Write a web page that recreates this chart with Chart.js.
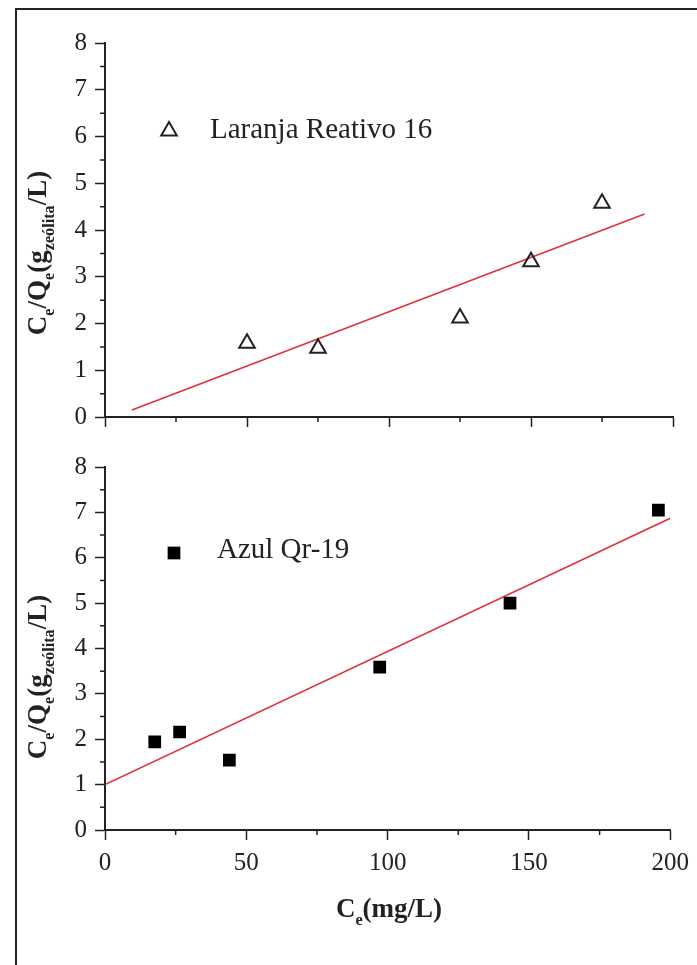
<!DOCTYPE html>
<html>
<head>
<meta charset="utf-8">
<script src="https://cdn.jsdelivr.net/npm/chart.js@4.4.0/dist/chart.umd.min.js"></script>
<style>
  html, body { margin: 0; padding: 0; background: #fff; }
  body { width: 697px; height: 965px; position: relative; overflow: hidden; }
  #frame { position: absolute; left: 15px; top: 8px; width: 700px; height: 980px;
           border-left: 2px solid #222; border-top: 2px solid #222; }
  canvas { position: absolute; left: 0; }
  #top { top: 0; }
  #bottom { top: 440px; }
</style>
</head>
<body>
<div id="frame"></div>
<canvas id="top" width="697" height="440"></canvas>
<canvas id="bottom" width="697" height="525"></canvas>
<script>
// Laranja Reativo 16 (open triangles)
const laranjaX = [50, 75, 125, 150, 175];
const laranjaY = [1.58, 1.47, 2.12, 3.32, 4.57];
const laranjaFitX = [9.5, 190];
const laranjaFitY = [0.15, 4.34];

// Azul Qr-19 (filled squares)
const azulX = [17.6, 26.4, 44, 97.2, 143.3, 195.8];
const azulY = [1.94, 2.16, 1.54, 3.59, 5.0, 7.05];
const azulFitX = [0, 200];
const azulFitY = [1.0, 6.87];

// axes
const xTicks = [0, 50, 100, 150, 200];
const yTicks = [0, 1, 2, 3, 4, 5, 6, 7, 8];
const xMinorStep = 25;
const yMinorStep = 0.5;

const yTitle = [["C", 0], ["e", 1], ["/Q", 0], ["e", 1], ["(g", 0], ["zeólita", 1], ["/L)", 0]];
const xTitle = [["C", 0], ["e", 1], ["(mg/L)", 0]];

const serif = '"Liberation Serif", "Times New Roman", serif';
const ink = "#222";

function pts(xs, ys) {
  return xs.map((x, i) => ({ x: x, y: ys[i] }));
}

// draws text pieces with subscripts, centred on (0,0) baseline
function drawRich(ctx, parts, size) {
  const subSize = size * 0.6;
  let w = 0;
  parts.forEach(p => {
    ctx.font = "bold " + (p[1] ? subSize : size) + "px " + serif;
    w += ctx.measureText(p[0]).width;
  });
  let x = -w / 2;
  ctx.textAlign = "left";
  ctx.textBaseline = "alphabetic";
  parts.forEach(p => {
    ctx.font = "bold " + (p[1] ? subSize : size) + "px " + serif;
    ctx.fillText(p[0], x, p[1] ? size * 0.28 : 0);
    x += ctx.measureText(p[0]).width;
  });
}

const decorations = {
  id: "decorations",
  afterDraw(chart, args, opts) {
    const ctx = chart.ctx;
    const xs = chart.scales.x, ys = chart.scales.y;
    ctx.save();
    ctx.strokeStyle = ink;
    ctx.lineWidth = 1.5;
    // minor ticks
    ctx.beginPath();
    for (let v = ys.min + yMinorStep; v < ys.max; v += 2 * yMinorStep) {
      const p = ys.getPixelForValue(v);
      ctx.moveTo(xs.left - 5, p); ctx.lineTo(xs.left, p);
    }
    for (let v = xs.min + xMinorStep; v < xs.max; v += 2 * xMinorStep) {
      const p = xs.getPixelForValue(v);
      ctx.moveTo(p, ys.bottom); ctx.lineTo(p, ys.bottom + 5);
    }
    ctx.stroke();

    // y title
    ctx.fillStyle = ink;
    ctx.save();
    ctx.translate(opts.yTitleX, opts.yTitleY);
    ctx.rotate(-Math.PI / 2);
    drawRich(ctx, yTitle, 27);
    ctx.restore();

    // x title
    if (opts.xTitle) {
      ctx.save();
      ctx.translate(opts.xTitleX, opts.xTitleY);
      drawRich(ctx, xTitle, 27);
      ctx.restore();
    }

    // legend
    const lg = opts.legend;
    const ds = chart.data.datasets[0];
    ctx.fillStyle = ds.backgroundColor;
    ctx.strokeStyle = ds.borderColor;
    ctx.lineWidth = ds.borderWidth;
    Chart.helpers.drawPoint(ctx, {
      pointStyle: ds.pointStyle, radius: ds.pointRadius, rotation: 0,
      borderWidth: ds.borderWidth
    }, lg.mx, lg.my);
    ctx.fillStyle = ink;
    ctx.font = "29px " + serif;
    ctx.textAlign = "left";
    ctx.textBaseline = "alphabetic";
    ctx.fillText(ds.label, lg.tx, lg.ty);
    ctx.restore();
  }
};

function makeChart(id, opt) {
  return new Chart(document.getElementById(id), {
    type: "scatter",
    data: {
      datasets: [
        {
          label: opt.label,
          data: pts(opt.xs, opt.ys),
          pointStyle: opt.style,
          pointRadius: 9,
          borderWidth: opt.filled ? 0 : 2,
          borderColor: ink,
          backgroundColor: opt.filled ? "#000" : "rgba(255,255,255,0)"
        },
        {
          label: "fit",
          data: pts(opt.fx, opt.fy),
          showLine: true,
          pointRadius: 0,
          borderColor: "#e0303a",
          borderWidth: 1.6
        }
      ]
    },
    options: {
      responsive: false,
      animation: false,
      layout: { padding: { left: 0, right: 24, top: opt.padTop, bottom: 0 } },
      plugins: {
        legend: { display: false },
        tooltip: { enabled: false },
        decorations: opt.deco
      },
      scales: {
        x: {
          type: "linear", min: 0, max: 200,
          afterBuildTicks: s => { s.ticks = xTicks.map(v => ({ value: v })); },
          afterFit: s => { s.height = opt.xHeight; },
          border: { display: true, color: ink, width: 2 },
          grid: { drawOnChartArea: false, tickLength: 10, tickColor: ink, tickWidth: 1.5 },
          ticks: { display: opt.xLabels, color: ink, padding: 8, font: { family: serif, size: 25 } }
        },
        y: {
          type: "linear", min: 0, max: 8,
          afterBuildTicks: s => { s.ticks = yTicks.map(v => ({ value: v })); },
          afterFit: s => { s.width = 105; },
          border: { display: true, color: ink, width: 2 },
          grid: { drawOnChartArea: false, tickLength: 10, tickColor: ink, tickWidth: 1.5 },
          ticks: { color: ink, padding: 8, font: { family: serif, size: 25 } }
        }
      }
    },
    plugins: [decorations]
  });
}

makeChart("top", {
  label: "Laranja Reativo 16", xs: laranjaX, ys: laranjaY, fx: laranjaFitX, fy: laranjaFitY,
  style: "triangle", filled: false, padTop: 43, xHeight: 23, xLabels: false,
  deco: { yTitleX: 46, yTitleY: 253, legend: { mx: 169, my: 131, tx: 210, ty: 138 } }
});

makeChart("bottom", {
  label: "Azul Qr-19", xs: azulX, ys: azulY, fx: azulFitX, fy: azulFitY,
  style: "rect", filled: true, padTop: 27, xHeight: 135, xLabels: true,
  deco: { yTitleX: 46, yTitleY: 237, xTitle: true, xTitleX: 389, xTitleY: 477,
          legend: { mx: 174, my: 113, tx: 217, ty: 118 } }
});
</script>
</body>
</html>
